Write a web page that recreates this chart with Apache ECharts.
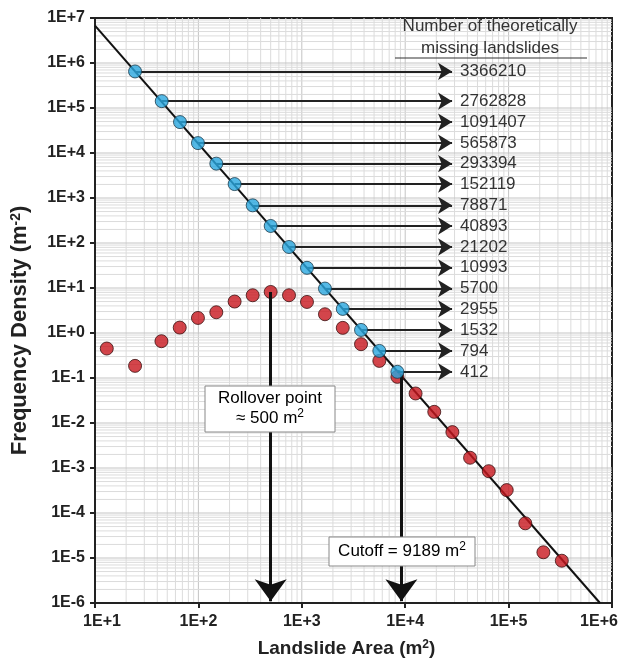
<!DOCTYPE html>
<html>
<head>
<meta charset="utf-8">
<script src="https://cdn.jsdelivr.net/npm/echarts@6/dist/echarts.min.js"></script>
<style>
  html, body { margin: 0; padding: 0; background: #fff; }
  #chart { width: 620px; height: 662px; }
</style>
</head>
<body>
<div id="chart"></div>
<script>
// landslide areas (m2) and frequency densities
const blueX = [24.4, 44.2, 66.4, 99, 149, 224, 335, 500, 752, 1122, 1675, 2490, 3740, 5620, 8400];
const blueY = [6.49e5, 1.42e5, 4.86e4, 1.66e4, 5.8e3, 2.04e3, 687, 239, 81.5, 28.1, 9.72, 3.43, 1.17, 0.40, 0.137];
const missingCounts = ['3366210', '2762828', '1091407', '565873', '293394', '152119', '78871',
  '40893', '21202', '10993', '5700', '2955', '1532', '794', '412'];

const redX = [13.0, 24.4, 43.9, 66, 99, 149, 224, 335, 500, 752, 1122, 1675, 2490, 3740, 5620,
  8400, 12600, 19100, 28600, 42400, 64300, 95900, 145000, 217000, 327000];
const redY = [0.452, 0.186, 0.657, 1.32, 2.16, 2.89, 5.0, 6.9, 8.17, 6.9, 4.9, 2.61, 1.30, 0.564, 0.24,
  0.106, 0.0453, 0.0177, 0.00627, 0.00169, 8.5e-4, 3.23e-4, 5.9e-5, 1.34e-5, 8.7e-6];

// power law fit, ends on the frame
const fitX = [10, 7.65e5];
const fitY = [6.8e6, 1e-6];

const rollover = [500, 8.17];
const cutoff = [9189, 0.12];
const arrowEndX = 28400;
const arrowFloorY = 1.1e-6;

const xMin = 10, xMax = 1e6, yMin = 1e-6, yMax = 1e7;
const xDecades = [1, 2, 3, 4, 5];
const yDecades = [-6, -5, -4, -3, -2, -1, 0, 1, 2, 3, 4, 5, 6];
const steps = [1, 2, 3, 4, 5, 6, 7, 8, 9];
const xTicks = [10, 100, 1e3, 1e4, 1e5, 1e6];
const yTicks = [1e-6, 1e-5, 1e-4, 1e-3, 1e-2, 1e-1, 1, 10, 100, 1e3, 1e4, 1e5, 1e6, 1e7];

const FONT = 'Liberation Sans, Arial, sans-serif';

function expLabel(v) {
  const e = Math.round(Math.log10(v));
  return '1E' + (e >= 0 ? '+' : '-') + Math.abs(e);
}

function xLabel(v) {
  const t = expLabel(v);
  if (v <= xMin * 1.001) return '{first|' + t + '}';
  if (v >= xMax * 0.999) return '{last|' + t + '}';
  return t;
}

// grid lines at 1..9 x 10^k
const xGrid = [];
xDecades.forEach(d => steps.forEach(s => xGrid.push([s * Math.pow(10, d), s === 1 ? 1 : 0])));
const yGrid = [];
yDecades.forEach(d => steps.forEach(s => yGrid.push([s * Math.pow(10, d), s === 1 ? 1 : 0])));

const chart = echarts.init(document.getElementById('chart'));

const arrowLines = blueX.map((x, i) => [
  { coord: [x, blueY[i]], label: { formatter: missingCounts[i] } },
  { coord: [arrowEndX, blueY[i]] }
]);

const supRich = {
  a: { fontSize: 17, fontFamily: FONT, color: '#333', lineHeight: 20 },
  s: { fontSize: 12, fontFamily: FONT, color: '#333', verticalAlign: 'top', lineHeight: 20 }
};

const tickFont = { color: '#222', fontWeight: 'bold', fontSize: 16, fontFamily: FONT };

const option = {
  animation: false,
  textStyle: { fontFamily: FONT },
  grid: {
    left: 95, right: 8, top: 18, bottom: 59,
    outerBoundsMode: 'none', containLabel: false,
    show: true, borderColor: '#222', borderWidth: 2, backgroundColor: '#fff'
  },
  xAxis: {
    type: 'log', logBase: 10, min: xMin, max: xMax,
    splitLine: { show: false },
    axisLine: { lineStyle: { color: '#222', width: 2 } },
    axisTick: { length: 5, customValues: xTicks, lineStyle: { color: '#222', width: 2 } },
    axisLabel: Object.assign({
      customValues: xTicks, formatter: xLabel, margin: 11,
      rich: {
        first: Object.assign({ padding: [0, 0, 0, 14] }, tickFont),
        last: Object.assign({ padding: [0, 26, 0, 0] }, tickFont)
      }
    }, tickFont),
    name: '{a|Landslide Area (m}{s|2}{a|)}',
    nameLocation: 'middle', nameGap: 36,
    nameTextStyle: {
      padding: [0, 14, 0, 0],
      rich: {
        a: { fontSize: 19, fontWeight: 'bold', color: '#222', fontFamily: FONT },
        s: { fontSize: 12, fontWeight: 'bold', color: '#222', fontFamily: FONT, verticalAlign: 'top' }
      }
    }
  },
  yAxis: {
    type: 'log', logBase: 10, min: yMin, max: yMax,
    splitLine: { show: false },
    axisLine: { lineStyle: { color: '#222', width: 2 } },
    axisTick: { length: 5, customValues: yTicks, lineStyle: { color: '#222', width: 2 } },
    axisLabel: Object.assign({ customValues: yTicks, formatter: expLabel, margin: 10 }, tickFont),
    name: '{a|Frequency Density (m}{s|-2}{a|)}',
    nameLocation: 'middle', nameGap: 64,
    nameTextStyle: {
      padding: [0, 40, 0, 0],
      rich: {
        a: { fontSize: 22, fontWeight: 'bold', color: '#222', fontFamily: FONT },
        s: { fontSize: 14, fontWeight: 'bold', color: '#222', fontFamily: FONT, verticalAlign: 'top' }
      }
    }
  },
  series: [
    {
      // vertical grid lines
      type: 'custom', silent: true, z: 0,
      data: xGrid,
      renderItem(params, api) {
        const v = api.value(0);
        const p0 = api.coord([v, yMin]);
        const p1 = api.coord([v, yMax]);
        return {
          type: 'line',
          shape: { x1: p0[0], y1: p0[1], x2: p1[0], y2: p1[1] },
          style: { stroke: api.value(1) ? '#c4c4c4' : '#dcdcdc', lineWidth: 1 }
        };
      },
      encode: { x: 0 }
    },
    {
      // horizontal grid lines
      type: 'custom', silent: true, z: 0,
      data: yGrid,
      renderItem(params, api) {
        const v = api.value(0);
        const p0 = api.coord([xMin, v]);
        const p1 = api.coord([xMax, v]);
        return {
          type: 'line',
          shape: { x1: p0[0], y1: p0[1], x2: p1[0], y2: p1[1] },
          style: { stroke: api.value(1) ? '#c4c4c4' : '#dcdcdc', lineWidth: 1 }
        };
      },
      encode: { y: 0 }
    },
    {
      type: 'line', z: 3,
      data: fitX.map((x, i) => [x, fitY[i]]),
      symbol: 'none',
      lineStyle: { color: '#111', width: 2 }
    },
    {
      type: 'scatter', z: 4,
      data: redX.map((x, i) => [x, redY[i]]),
      symbolSize: 13,
      itemStyle: { color: '#c8161e', borderColor: '#3a1010', borderWidth: 1 },
      markLine: {
        silent: true, symbol: ['none', 'arrow'], symbolSize: [24, 22],
        lineStyle: { color: '#111', width: 3, type: 'solid' },
        label: { show: false },
        data: [
          [{ coord: [rollover[0], rollover[1]] }, { coord: [rollover[0], arrowFloorY] }],
          [{ coord: [cutoff[0], cutoff[1]] }, { coord: [cutoff[0], arrowFloorY] }]
        ]
      }
    },
    {
      type: 'scatter', z: 5,
      data: blueX.map((x, i) => [x, blueY[i]]),
      symbolSize: 13,
      itemStyle: { color: '#29a8e0', borderColor: '#1c3a4a', borderWidth: 1 }
    },
    {
      type: 'scatter', z: 6,
      data: [],
      markLine: {
        silent: true, symbol: ['none', 'arrow'], symbolSize: [13, 14],
        lineStyle: { color: '#222', width: 2, type: 'solid' },
        label: {
          show: true, position: 'end', distance: 8,
          color: '#333', fontSize: 17, fontFamily: FONT
        },
        data: arrowLines
      }
    }
  ],
  graphic: [
    {
      type: 'text', z: 100,
      x: 490, y: 15,
      style: {
        text: 'Number of theoretically\nmissing landslides',
        fill: '#333', font: '17px ' + FONT, textAlign: 'center', lineHeight: 22
      }
    },
    {
      type: 'line', z: 100,
      shape: { x1: 395, y1: 58, x2: 587, y2: 58 },
      style: { stroke: '#333', lineWidth: 1.2 }
    },
    {
      type: 'rect', z: 100,
      shape: { x: 205, y: 386, width: 130, height: 46 },
      style: { fill: '#fff', stroke: '#888', lineWidth: 1 }
    },
    {
      type: 'text', z: 101, x: 270, y: 388,
      style: {
        text: '{a|Rollover point}\n{a|≈ 500 m}{s|2}',
        textAlign: 'center',
        rich: supRich
      }
    },
    {
      type: 'rect', z: 100,
      shape: { x: 329, y: 537, width: 146, height: 29 },
      style: { fill: '#fff', stroke: '#888', lineWidth: 1 }
    },
    {
      type: 'text', z: 101, x: 402, y: 541,
      style: {
        text: '{a|Cutoff = 9189 m}{s|2}',
        textAlign: 'center',
        rich: supRich
      }
    }
  ]
};

chart.setOption(option);
</script>
</body>
</html>
